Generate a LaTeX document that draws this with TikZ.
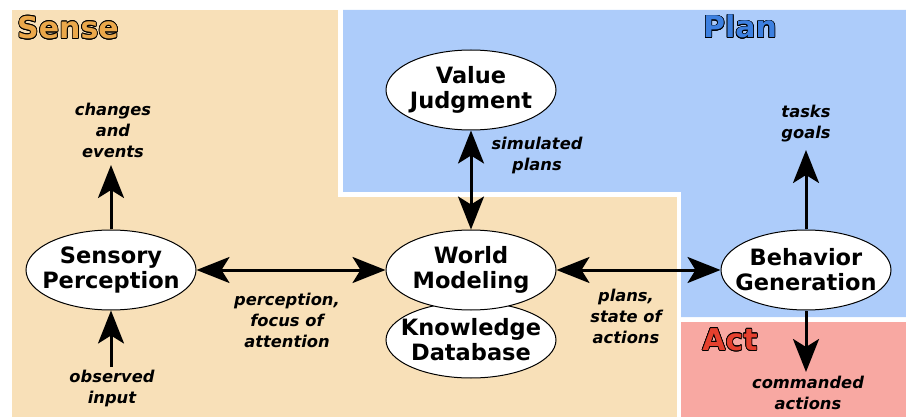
\documentclass[tikz,border=0pt]{standalone}
\usepackage{fontspec}
\setmainfont{DejaVu Sans}
\usepackage{contour}
\contourlength{0.7pt}
\usetikzlibrary{shapes.geometric,arrows.meta}
\definecolor{senseBg}{HTML}{F8E0B8}
\definecolor{planBg}{HTML}{ADCCFA}
\definecolor{actBg}{HTML}{F8A8A2}
\definecolor{senseText}{HTML}{EBA84B}
\definecolor{planText}{HTML}{3D80E0}
\definecolor{actText}{HTML}{E5402E}

\begin{document}
\begin{tikzpicture}[x=1pt, y=-1pt,
		Head/.tip={Stealth[length=33pt,width=26pt,inset=8pt]},
		unit/.style={ellipse, draw, fill=white, line width=1pt,
			minimum width=170pt, minimum height=80pt, inner sep=-20pt,
			align=center, font=\fontsize{22.5}{25}\selectfont\bfseries},
		flow/.style={line width=3pt},
		note/.style={align=center, font=\fontsize{16.3}{21}\selectfont\bfseries\itshape},
		region/.style={font=\fontsize{30}{30}\selectfont\bfseries}
		]
	\useasboundingbox (0,0) rectangle (906,417);
	% areas
	\fill[senseBg] (12,10) rectangle (338,417);
	\fill[senseBg] (338,197) rectangle (677,417);
	\fill[planBg] (343,10) -- (906,10) -- (906,317) -- (681,317) -- (681,192) -- (343,192) -- cycle;
	\fill[actBg] (681,322) rectangle (906,417);
	\node [region,text=senseText] (sense) at (68,28) {\contour{black}{Sense}};
	\node [region,text=planText] (plan) at (740,27) {\contour{black}{Plan}};
	\node [region,text=actText] (act) at (730,340) {\contour{black}{Act}};

	% units
	\node [unit] (sp) at (111,270) {Sensory\\Perception};
	\node [unit] (vj) at (471,90) {Value\\Judgment};
	\node [unit,minimum height=76pt] (kd) at (471,340) {Knowledge\\Database};
	\node [unit] (wm) at (471,270) {World\\Modeling};
	\node [unit] (bg) at (806,270) {Behavior\\Generation};

	% free ends
	\coordinate (ce) at (111,165);
	\coordinate (oi) at (111,367);
	\coordinate (tg) at (806,150);
	\coordinate (ca) at (806,372);

	\draw [flow,-{Head}] (sp) -- (ce);
	\draw [flow,-{Head}] (oi) -- (sp);
	\draw [flow,{Head}-{Head}] (sp) -- (wm);
	\draw [flow,{Head}-{Head}] (vj) -- (wm);
	\draw [flow,{Head}-{Head}] (wm) -- (bg);
	\draw [flow,-{Head}] (bg) -- (tg);
	\draw [flow,-{Head}] (bg) -- (ca);

	\node [note] (lce) at (113,130) {changes\\and\\events};
	\node [note] (loi) at (112,389) {observed\\input};
	\node [note] (lpf) at (287,320) {perception,\\focus of\\attention};
	\node [note] (lsp) at (537,156) {simulated\\plans};
	\node [note] (lps) at (626,316) {plans,\\state of\\actions};
	\node [note] (ltg) at (806,124) {tasks\\goals};
	\node [note] (lca) at (808,393) {commanded\\actions};
\end{tikzpicture}
\end{document}
